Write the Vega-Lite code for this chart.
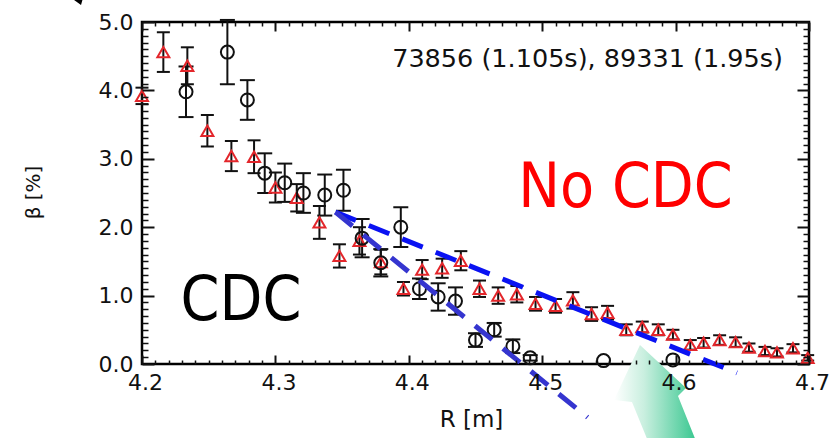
{
  "$schema": "https://vega.github.io/schema/vega-lite/v6.json",
  "width": 667,
  "height": 342,
  "autosize": {"type": "none"},
  "padding": {"left": 142, "top": 22, "right": 27, "bottom": 74},
  "background": "white",
  "config": {
    "view": {"stroke": "#000", "strokeWidth": 2.5},
    "axis": {"grid": false, "domain": false, "labelColor": "#111", "titleColor": "#111"}
  },
  "datasets": {
    "red": [
      {"R": 4.200, "beta": 3.92, "lo": 3.80, "hi": 4.04},
      {"R": 4.216, "beta": 4.56, "lo": 4.27, "hi": 4.85},
      {"R": 4.234, "beta": 4.36, "lo": 4.09, "hi": 4.63},
      {"R": 4.249, "beta": 3.41, "lo": 3.18, "hi": 3.64},
      {"R": 4.267, "beta": 3.04, "lo": 2.82, "hi": 3.26},
      {"R": 4.284, "beta": 3.03, "lo": 2.79, "hi": 3.27},
      {"R": 4.300, "beta": 2.58, "lo": 2.36, "hi": 2.80},
      {"R": 4.316, "beta": 2.43, "lo": 2.23, "hi": 2.63},
      {"R": 4.333, "beta": 2.07, "lo": 1.83, "hi": 2.31},
      {"R": 4.348, "beta": 1.58, "lo": 1.41, "hi": 1.75},
      {"R": 4.363, "beta": 1.80, "lo": 1.60, "hi": 2.00},
      {"R": 4.379, "beta": 1.49, "lo": 1.31, "hi": 1.67},
      {"R": 4.396, "beta": 1.10, "lo": 1.00, "hi": 1.20},
      {"R": 4.410, "beta": 1.38, "lo": 1.24, "hi": 1.52},
      {"R": 4.425, "beta": 1.40, "lo": 1.26, "hi": 1.54},
      {"R": 4.439, "beta": 1.51, "lo": 1.37, "hi": 1.65},
      {"R": 4.453, "beta": 1.10, "lo": 0.98, "hi": 1.22},
      {"R": 4.467, "beta": 1.00, "lo": 0.88, "hi": 1.12},
      {"R": 4.481, "beta": 1.02, "lo": 0.90, "hi": 1.14},
      {"R": 4.495, "beta": 0.88, "lo": 0.78, "hi": 0.98},
      {"R": 4.510, "beta": 0.85, "lo": 0.75, "hi": 0.95},
      {"R": 4.523, "beta": 0.93, "lo": 0.81, "hi": 1.05},
      {"R": 4.537, "beta": 0.73, "lo": 0.63, "hi": 0.83},
      {"R": 4.549, "beta": 0.75, "lo": 0.65, "hi": 0.85},
      {"R": 4.563, "beta": 0.50, "lo": 0.42, "hi": 0.58},
      {"R": 4.575, "beta": 0.54, "lo": 0.46, "hi": 0.62},
      {"R": 4.587, "beta": 0.50, "lo": 0.42, "hi": 0.58},
      {"R": 4.598, "beta": 0.43, "lo": 0.36, "hi": 0.50},
      {"R": 4.611, "beta": 0.28, "lo": 0.21, "hi": 0.35},
      {"R": 4.621, "beta": 0.31, "lo": 0.24, "hi": 0.38},
      {"R": 4.633, "beta": 0.35, "lo": 0.28, "hi": 0.42},
      {"R": 4.645, "beta": 0.32, "lo": 0.25, "hi": 0.39},
      {"R": 4.655, "beta": 0.24, "lo": 0.18, "hi": 0.30},
      {"R": 4.667, "beta": 0.19, "lo": 0.13, "hi": 0.25},
      {"R": 4.676, "beta": 0.17, "lo": 0.11, "hi": 0.23},
      {"R": 4.688, "beta": 0.23, "lo": 0.17, "hi": 0.29},
      {"R": 4.699, "beta": 0.09, "lo": 0.05, "hi": 0.13}
    ],
    "blackbars": [
      {"R": 4.233, "beta": 3.98, "lo": 3.61, "hi": 4.35},
      {"R": 4.264, "beta": 4.56, "lo": 4.09, "hi": 5.03},
      {"R": 4.279, "beta": 3.86, "lo": 3.57, "hi": 4.15},
      {"R": 4.292, "beta": 2.79, "lo": 2.50, "hi": 3.08},
      {"R": 4.307, "beta": 2.65, "lo": 2.37, "hi": 2.93},
      {"R": 4.321, "beta": 2.50, "lo": 2.21, "hi": 2.79},
      {"R": 4.337, "beta": 2.47, "lo": 2.17, "hi": 2.77},
      {"R": 4.351, "beta": 2.54, "lo": 2.24, "hi": 2.84},
      {"R": 4.365, "beta": 1.84, "lo": 1.56, "hi": 2.12},
      {"R": 4.379, "beta": 1.48, "lo": 1.28, "hi": 1.68},
      {"R": 4.394, "beta": 2.00, "lo": 1.71, "hi": 2.29},
      {"R": 4.408, "beta": 1.10, "lo": 0.95, "hi": 1.25},
      {"R": 4.422, "beta": 0.98, "lo": 0.78, "hi": 1.18},
      {"R": 4.435, "beta": 0.92, "lo": 0.72, "hi": 1.12},
      {"R": 4.450, "beta": 0.35, "lo": 0.25, "hi": 0.45},
      {"R": 4.464, "beta": 0.50, "lo": 0.40, "hi": 0.60},
      {"R": 4.478, "beta": 0.26, "lo": 0.16, "hi": 0.36},
      {"R": 4.491, "beta": 0.09, "lo": 0.05, "hi": 0.13}
    ],
    "blacknobar": [
      {"R": 4.546, "beta": 0.05},
      {"R": 4.598, "beta": 0.06}
    ],
    "lines": [
      {"id": "a", "R": 4.345, "beta": 2.22},
      {"id": "a", "R": 4.646, "beta": -0.13},
      {"id": "b", "R": 4.345, "beta": 2.22},
      {"id": "b", "R": 4.534, "beta": -0.78}
    ],
    "ann": [{"t": "73856 (1.105s), 89331 (1.95s)", "R": 4.6805, "beta": 4.342}],
    "cdc": [{"t": "CDC", "R": 4.2742, "beta": 0.643}],
    "nocdc": [{"t": "No CDC", "R": 4.5625, "beta": 2.295}],
    "greenarrow": [{"R": 4.5853, "beta": -0.497}],
    "blackarrow": [{"R": 4.1498, "beta": 5.32}]
  },
  "layer": [
    {
      "data": {"name": "red"},
      "mark": {"type": "rule", "color": "#111", "strokeWidth": 2},
      "encoding": {
        "x": {"field": "R", "type": "quantitative", "scale": {"domain": [4.2, 4.7], "nice": false, "zero": false},
              "axis": {"orient": "bottom", "tickCount": 50, "zindex": 1,
                       "tickSize": {"condition": {"test": "abs(datum.value*10 - round(datum.value*10)) < 0.001", "value": -9}, "value": -4},
                       "tickWidth": {"condition": {"test": "abs(datum.value*10 - round(datum.value*10)) < 0.001", "value": 2}, "value": 1.5},
                       "tickColor": "#111",
                       "labelExpr": "abs(datum.value*10 - round(datum.value*10)) < 0.001 ? format(datum.value, '.1f') : ''",
                       "labelPadding": 17, "labelFont": "DejaVu Sans", "labelFontSize": 22, "labelFlush": false, "labelOverlap": false, "labelOffset": 3,
                       "title": "R [m]", "titleFont": "DejaVu Sans", "titleFontSize": 23, "titleFontWeight": "normal",
                       "titleX": 329, "titleY": 62, "titleBaseline": "alphabetic", "titleAlign": "center"}},
        "y": {"field": "lo", "type": "quantitative", "scale": {"domain": [0, 5], "nice": false, "zero": false},
              "axis": {"orient": "left", "tickCount": 50, "zindex": 1,
                       "tickSize": {"condition": {"test": "abs(datum.value - round(datum.value)) < 0.001", "value": -12}, "value": -6},
                       "tickWidth": {"condition": {"test": "abs(datum.value - round(datum.value)) < 0.001", "value": 2}, "value": 1.5},
                       "tickColor": "#111",
                       "labelExpr": "abs(datum.value - round(datum.value)) < 0.001 ? format(datum.value, '.1f') : ''",
                       "labelPadding": 21, "labelFont": "DejaVu Sans", "labelFontSize": 22, "labelFlush": false, "labelOverlap": false,
                       "title": "β [%]", "titleFont": "DejaVu Sans", "titleFontSize": 20, "titleFontWeight": "normal",
                       "titleX": -109, "titleY": 170, "titleAngle": -90, "titleBaseline": "middle", "titleAlign": "center"}},
        "y2": {"field": "hi"}
      }
    },
    {
      "data": {"name": "blackbars"},
      "mark": {"type": "rule", "color": "#111", "strokeWidth": 2},
      "encoding": {
        "x": {"field": "R", "type": "quantitative", "axis": {"orient": "top", "tickCount": 50, "zindex": 1, "labels": false, "title": null, "tickColor": "#111",
                       "tickSize": {"condition": {"test": "abs(datum.value*10 - round(datum.value*10)) < 0.001", "value": -9}, "value": -4},
                       "tickWidth": {"condition": {"test": "abs(datum.value*10 - round(datum.value*10)) < 0.001", "value": 2}, "value": 1.5}}},
        "y": {"field": "lo", "type": "quantitative", "axis": {"orient": "right", "tickCount": 50, "zindex": 1, "labels": false, "title": null, "tickColor": "#111",
                       "tickSize": {"condition": {"test": "abs(datum.value - round(datum.value)) < 0.001", "value": -12}, "value": -6},
                       "tickWidth": {"condition": {"test": "abs(datum.value - round(datum.value)) < 0.001", "value": 2}, "value": 1.5}}},
        "y2": {"field": "hi"}
      }
    },
    {
      "data": {"name": "red"},
      "mark": {"type": "tick", "orient": "horizontal", "color": "#111", "thickness": 2, "size": 13, "opacity": 1},
      "encoding": {"x": {"field": "R", "type": "quantitative", "axis": null}, "y": {"field": "lo", "type": "quantitative", "axis": null}}
    },
    {
      "data": {"name": "red"},
      "mark": {"type": "tick", "orient": "horizontal", "color": "#111", "thickness": 2, "size": 13, "opacity": 1},
      "encoding": {"x": {"field": "R", "type": "quantitative", "axis": null}, "y": {"field": "hi", "type": "quantitative", "axis": null}}
    },
    {
      "data": {"name": "blackbars"},
      "mark": {"type": "tick", "orient": "horizontal", "color": "#111", "thickness": 2, "size": 15, "opacity": 1},
      "encoding": {"x": {"field": "R", "type": "quantitative", "axis": null}, "y": {"field": "lo", "type": "quantitative", "axis": null}}
    },
    {
      "data": {"name": "blackbars"},
      "mark": {"type": "tick", "orient": "horizontal", "color": "#111", "thickness": 2, "size": 15, "opacity": 1},
      "encoding": {"x": {"field": "R", "type": "quantitative", "axis": null}, "y": {"field": "hi", "type": "quantitative", "axis": null}}
    },
    {
      "data": {"name": "red"},
      "mark": {"type": "point", "shape": "triangle-up", "filled": false, "color": "#e3262b", "strokeWidth": 2, "size": 144, "opacity": 1},
      "encoding": {"x": {"field": "R", "type": "quantitative", "axis": null}, "y": {"field": "beta", "type": "quantitative", "axis": null}}
    },
    {
      "data": {"name": "blackbars"},
      "mark": {"type": "point", "shape": "circle", "filled": false, "color": "#111", "strokeWidth": 2, "size": 169, "opacity": 1},
      "encoding": {"x": {"field": "R", "type": "quantitative", "axis": null}, "y": {"field": "beta", "type": "quantitative", "axis": null}}
    },
    {
      "data": {"name": "blacknobar"},
      "mark": {"type": "point", "shape": "circle", "filled": false, "color": "#111", "strokeWidth": 2, "size": 169, "opacity": 1},
      "encoding": {"x": {"field": "R", "type": "quantitative", "axis": null}, "y": {"field": "beta", "type": "quantitative", "axis": null}}
    },
    {
      "data": {"name": "lines"},
      "mark": {"type": "line", "strokeWidth": 5, "strokeDash": [22, 14], "clip": false},
      "encoding": {
        "x": {"field": "R", "type": "quantitative", "axis": null},
        "y": {"field": "beta", "type": "quantitative", "axis": null},
        "stroke": {"field": "id", "type": "nominal", "scale": {"domain": ["a", "b"], "range": ["#0a12f2", "#3535cf"]}, "legend": null}
      }
    },
    {
      "data": {"name": "ann"},
      "mark": {"type": "text", "align": "right", "baseline": "alphabetic", "font": "DejaVu Sans", "fontSize": 25.5, "color": "#111"},
      "encoding": {"x": {"field": "R", "type": "quantitative", "axis": null}, "y": {"field": "beta", "type": "quantitative", "axis": null}, "text": {"field": "t"}}
    },
    {
      "data": {"name": "cdc"},
      "mark": {"type": "text", "align": "center", "baseline": "alphabetic", "font": "DejaVu Sans Condensed, Open Sans", "fontSize": 62, "color": "#000"},
      "encoding": {"x": {"field": "R", "type": "quantitative", "axis": null}, "y": {"field": "beta", "type": "quantitative", "axis": null}, "text": {"field": "t"}}
    },
    {
      "data": {"name": "nocdc"},
      "mark": {"type": "text", "align": "center", "baseline": "alphabetic", "font": "DejaVu Sans Condensed, Open Sans", "fontSize": 62, "color": "#ff0000"},
      "encoding": {"x": {"field": "R", "type": "quantitative", "axis": null}, "y": {"field": "beta", "type": "quantitative", "axis": null}, "text": {"field": "t"}}
    },
    {
      "data": {"name": "greenarrow"},
      "mark": {"type": "point", "filled": true, "clip": false, "opacity": 1, "strokeWidth": 0, "size": 11236,
               "shape": "M -0.302 -1 L 0.566 -0.189 L 0.415 -0.038 L 0.83 1 L -0.075 1 L -0.453 0.075 L -0.792 0.038 Z",
               "fill": {"gradient": "linear", "x1": 0, "x2": 1, "y1": 0, "y2": 0,
                        "stops": [{"offset": 0, "color": "#ffffff"}, {"offset": 0.35, "color": "#c9efdf"}, {"offset": 1, "color": "#2ec48a"}]}},
      "encoding": {"x": {"field": "R", "type": "quantitative", "axis": null}, "y": {"field": "beta", "type": "quantitative", "axis": null}}
    },
    {
      "data": {"name": "blackarrow"},
      "mark": {"type": "point", "filled": true, "clip": false, "opacity": 1, "strokeWidth": 0, "size": 256, "color": "#000",
               "shape": "M -1.125 -0.75 L 0.75 0.625 L 1.125 -0.75 Z"},
      "encoding": {"x": {"field": "R", "type": "quantitative", "axis": null}, "y": {"field": "beta", "type": "quantitative", "axis": null}}
    }
  ],
  "resolve": {"axis": {"x": "independent", "y": "independent"}}
}
